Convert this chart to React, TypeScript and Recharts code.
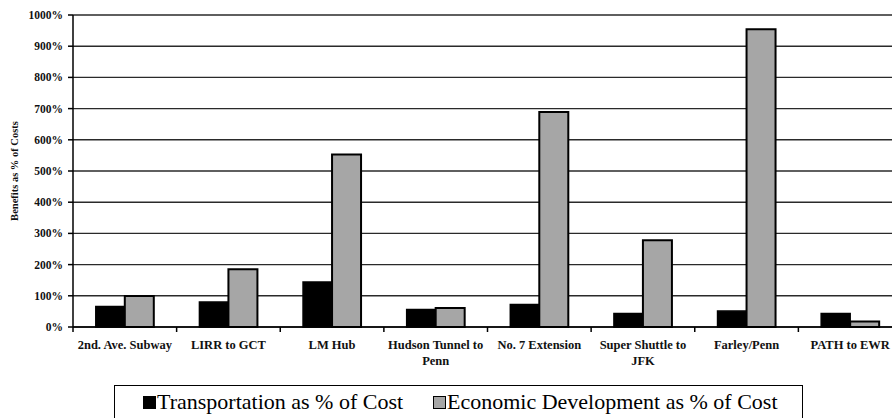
import React from 'react';
import { Bar, BarChart, CartesianGrid, Legend, XAxis, YAxis } from 'recharts';

const projects = [
  '2nd. Ave. Subway',
  'LIRR to GCT',
  'LM Hub',
  'Hudson Tunnel to Penn',
  'No. 7 Extension',
  'Super Shuttle to JFK',
  'Farley/Penn',
  'PATH to EWR',
];
const transportation = [66, 80, 144, 56, 72, 43, 51, 43];
const economic = [99, 185, 553, 61, 689, 278, 954, 18];
const yTicks = [0, 100, 200, 300, 400, 500, 600, 700, 800, 900, 1000];

const data = projects.map((name, i) => ({
  name,
  transportation: transportation[i],
  economic: economic[i],
}));

const CHART_W = 904;
const CHART_H = 418;
const Y_W = 73;
const M_RIGHT = 2;
const BAND = (CHART_W - Y_W - M_RIGHT) / projects.length;
const SERIF = '"Liberation Serif", "DejaVu Serif", serif';

// break long names after the last word that keeps the line within 16 chars
function wrapLabel(s: string, max = 16): string[] {
  if (s.length <= max) return [s];
  const cut = s.lastIndexOf(' ', max);
  return [s.slice(0, cut), s.slice(cut + 1)];
}

function ProjectTick(props: any) {
  const { x, y, payload } = props;
  const lines = wrapLabel(payload.value);
  return (
    <g>
      <line x1={x - BAND / 2} y1={y - 8} x2={x - BAND / 2} y2={y - 3} stroke="#000" strokeWidth={1.5} />
      <text
        x={x}
        y={y + 14}
        textAnchor="middle"
        style={{ fontFamily: SERIF, fontWeight: 700, fontSize: 12.5, fill: '#111' }}
      >
        {lines.map((l, i) => (
          <tspan key={i} x={x} dy={i === 0 ? 0 : 16}>
            {l}
          </tspan>
        ))}
      </text>
    </g>
  );
}

function LegendBox() {
  const item = (fill: string, label: string, left: number) => (
    <div style={{ position: 'absolute', left, top: 3, display: 'flex', alignItems: 'center' }}>
      <span
        style={{
          display: 'inline-block',
          width: 13,
          height: 13,
          background: fill,
          border: '1.5px solid #000',
          boxSizing: 'border-box',
          marginRight: 1,
        }}
      />
      <span style={{ fontFamily: SERIF, fontSize: 22, color: '#000', whiteSpace: 'nowrap' }}>{label}</span>
    </div>
  );
  return (
    <div
      style={{
        position: 'relative',
        width: 689,
        height: 40,
        border: '1.5px solid #000',
        boxSizing: 'border-box',
        background: '#fff',
      }}
    >
      {item('#000', 'Transportation as % of Cost', 28)}
      {item('#a6a6a6', 'Economic Development as % of Cost', 318)}
    </div>
  );
}

export default function App() {
  return (
    <div
      style={{
        position: 'absolute',
        left: 0,
        top: 0,
        width: 892,
        height: 418,
        overflow: 'hidden',
        background: '#fff',
      }}
    >
      <BarChart
        width={CHART_W}
        height={CHART_H}
        data={data}
        margin={{ top: 15, right: M_RIGHT, left: 0, bottom: 11 }}
        barGap={0}
        barCategoryGap="22%"
      >
        <CartesianGrid vertical={false} stroke="#2a2a2a" strokeWidth={1.4} />
        <XAxis
          dataKey="name"
          axisLine={{ stroke: '#000', strokeWidth: 1.5 }}
          tickLine={false}
          tick={<ProjectTick />}
          interval={0}
          height={40}
        />
        <YAxis
          width={Y_W}
          domain={[0, 1000]}
          ticks={yTicks}
          tickFormatter={(v: number) => `${v}%`}
          axisLine={{ stroke: '#000', strokeWidth: 1.5 }}
          tickLine={{ stroke: '#000', strokeWidth: 1.5 }}
          tickSize={5}
          tick={{ fontFamily: SERIF, fontWeight: 700, fontSize: 11.5, fill: '#111', dx: -3 }}
          label={{
            value: 'Benefits as % of Costs',
            angle: -90,
            position: 'insideLeft',
            offset: 14,
            style: { fontFamily: SERIF, fontWeight: 700, fontSize: 10.5, fill: '#111', textAnchor: 'middle' },
          }}
        />
        <Legend
          verticalAlign="bottom"
          content={() => <LegendBox />}
          wrapperStyle={{ left: 114, top: 385, bottom: 'auto', width: 689, height: 40 }}
        />
        <Bar dataKey="transportation" fill="#000" stroke="#000" strokeWidth={1.5} isAnimationActive={false} />
        <Bar dataKey="economic" fill="#a6a6a6" stroke="#000" strokeWidth={2} isAnimationActive={false} />
      </BarChart>
    </div>
  );
}
